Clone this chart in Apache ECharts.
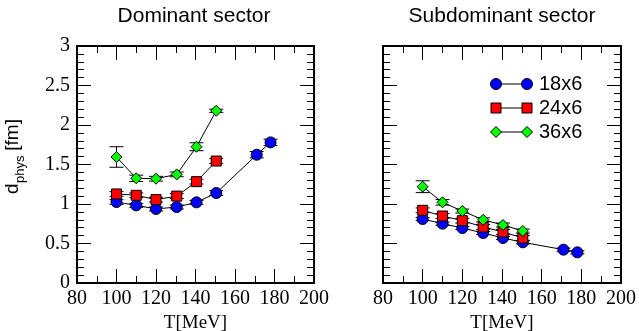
<!DOCTYPE html>
<html><head><meta charset="utf-8">
<script src="https://cdn.jsdelivr.net/npm/echarts@6/dist/echarts.min.js"></script>
<style>html,body{margin:0;padding:0;background:#fff}#c{width:639px;height:331px}</style>
</head><body><div id="c"></div>
<script>
// Temperatures (MeV) of the lattice ensembles
const temps = [100, 110, 120, 130.5, 140.5, 150.5, 171, 178];
const latticeNames = ['18x6', '24x6', '36x6'];
const markerColors = ['#0000ff', '#ff0000', '#00ff00'];
const markerShapes = ['circle', 'rect', 'diamond'];
const markerSizes = [11, 10, 11];

// Dominant sector: d_phys [fm] and errors
const dom18 = [1.025, 0.983, 0.937, 0.962, 1.021, 1.139, 1.624, 1.78];
const dom18Err = [0.03, 0.025, 0.025, 0.025, 0.025, 0.03, 0.04, 0.04];
const dom24 = [1.127, 1.11, 1.055, 1.10, 1.283, 1.544];
const dom24Err = [0.03, 0.03, 0.03, 0.03, 0.03, 0.03];
const dom36 = [1.595, 1.325, 1.32, 1.375, 1.725, 2.18];
const dom36Err = [0.13, 0.04, 0.03, 0.03, 0.05, 0.02];

// Subdominant sector: d_phys [fm] and errors
const sub18 = [0.81, 0.751, 0.696, 0.633, 0.57, 0.515, 0.422, 0.388];
const sub18Err = [0.02, 0.02, 0.02, 0.02, 0.02, 0.02, 0.02, 0.02];
const sub24 = [0.92, 0.848, 0.789, 0.709, 0.646, 0.57];
const sub24Err = [0.03, 0.03, 0.03, 0.03, 0.03, 0.03];
const sub36 = [1.219, 1.021, 0.911, 0.80, 0.734, 0.658];
const sub36Err = [0.075, 0.035, 0.025, 0.025, 0.025, 0.025];

const panelTitles = ['Dominant sector', 'Subdominant sector'];
const xTitle = 'T[MeV]';

const panels = [
  { vals: [dom18, dom24, dom36], errs: [dom18Err, dom24Err, dom36Err] },
  { vals: [sub18, sub24, sub36], errs: [sub18Err, sub24Err, sub36Err] }
];

const serif = 'Liberation Serif, Times New Roman, serif';
const sans = 'Liberation Sans, Arial, Helvetica, sans-serif';

function xAx(grid, pos, labels) {
  return {
    type: 'value', gridIndex: grid, position: pos, min: 80, max: 200, interval: 20,
    axisLine: { show: true, onZero: false, lineStyle: { color: '#000', width: 2 } },
    axisTick: { show: true, inside: true, length: 14, lineStyle: { color: '#000', width: 1 } },
    minorTick: { show: true, splitNumber: 2, length: 7, lineStyle: { color: '#000', width: 1 } },
    splitLine: { show: false }, minorSplitLine: { show: false },
    axisLabel: { show: labels, color: '#000', fontFamily: serif, fontSize: 20, margin: 6 },
    name: labels ? xTitle : '', nameLocation: 'middle', nameGap: 30,
    nameTextStyle: { color: '#000', fontFamily: serif, fontSize: 19 }
  };
}
function yAx(grid, pos, labels) {
  return {
    type: 'value', gridIndex: grid, position: pos, min: 0, max: 3, interval: 0.5,
    axisLine: { show: true, onZero: false, lineStyle: { color: '#000', width: 2 } },
    axisTick: { show: true, inside: true, length: 14, lineStyle: { color: '#000', width: 1 } },
    minorTick: { show: true, splitNumber: 5, length: 7, lineStyle: { color: '#000', width: 1 } },
    splitLine: { show: false }, minorSplitLine: { show: false },
    axisLabel: { show: labels, color: '#000', fontFamily: serif, fontSize: 20, margin: 7 }
  };
}

function errRender(params, api) {
  const x = api.value(0), y = api.value(1), e = api.value(2);
  const top = api.coord([x, y + e]);
  const bot = api.coord([x, y - e]);
  const hw = 7;
  const st = { stroke: '#000', lineWidth: 1 };
  return {
    type: 'group', children: [
      { type: 'line', shape: { x1: top[0], y1: top[1], x2: bot[0], y2: bot[1] }, style: st },
      { type: 'line', shape: { x1: top[0] - hw, y1: top[1], x2: top[0] + hw, y2: top[1] }, style: st },
      { type: 'line', shape: { x1: bot[0] - hw, y1: bot[1], x2: bot[0] + hw, y2: bot[1] }, style: st }
    ]
  };
}

const series = [];
panels.forEach((p, g) => {
  p.vals.forEach((vals, k) => {
    const pts = vals.map((v, i) => [temps[i], v]);
    const errPts = vals.map((v, i) => [temps[i], v, p.errs[k][i]]);
    series.push({
      type: 'custom', xAxisIndex: g * 2, yAxisIndex: g * 2, renderItem: errRender,
      data: errPts, encode: { x: 0, y: 1 }, z: 2 + k * 3, silent: true
    });
    series.push({
      type: 'line', name: latticeNames[k], xAxisIndex: g * 2, yAxisIndex: g * 2,
      data: pts, symbol: markerShapes[k], symbolSize: markerSizes[k], showSymbol: true,
      lineStyle: { color: '#000', width: 1 },
      itemStyle: { color: markerColors[k], borderColor: '#000', borderWidth: 1 },
      z: 3 + k * 3
    });
  });
});

// Legend drawn as line-with-end-markers entries
const legendGraphics = [];
latticeNames.forEach((name, k) => {
  const y = 84 + k * 24;
  const x1 = 496, x2 = 527;
  legendGraphics.push({ type: 'line', shape: { x1, y1: y, x2, y2: y }, style: { stroke: '#000', lineWidth: 1 } });
  [x1, x2].forEach(x => {
    let el;
    if (markerShapes[k] === 'circle') {
      el = { type: 'circle', shape: { cx: x, cy: y, r: 5.5 } };
    } else if (markerShapes[k] === 'rect') {
      el = { type: 'rect', shape: { x: x - 5, y: y - 5, width: 10, height: 10 } };
    } else {
      el = { type: 'polygon', shape: { points: [[x, y - 5.5], [x + 5.5, y], [x, y + 5.5], [x - 5.5, y]] } };
    }
    el.style = { fill: markerColors[k], stroke: '#000', lineWidth: 1 };
    el.z = 10;
    legendGraphics.push(el);
  });
  legendGraphics.push({
    type: 'text', x: 539, y: y, z: 10,
    style: { text: name, font: '20px ' + sans, fill: '#000', verticalAlign: 'middle', align: 'left' }
  });
});

const titleGraphics = [
  { type: 'text', x: 194, y: 16, style: { text: panelTitles[0], font: '21px ' + sans, fill: '#000', align: 'center', verticalAlign: 'middle' } },
  { type: 'text', x: 502, y: 16, style: { text: panelTitles[1], font: '21px ' + sans, fill: '#000', align: 'center', verticalAlign: 'middle' } }
];

// Y axis title: d_phys [fm], rotated
const yTitle = {
  type: 'group', x: 22, y: 194, rotation: Math.PI / 2,
  children: [
    { type: 'text', x: 0, y: 0, style: { text: 'd', font: '19px ' + sans, fill: '#000', verticalAlign: 'bottom', align: 'left' } },
    { type: 'text', x: 11, y: 5, style: { text: 'phys', font: '13px ' + sans, fill: '#000', verticalAlign: 'bottom', align: 'left' } },
    { type: 'text', x: 38, y: 0, style: { text: ' [fm]', font: '19px ' + sans, fill: '#000', verticalAlign: 'bottom', align: 'left' } }
  ]
};

const chart = echarts.init(document.getElementById('c'), null, { renderer: 'canvas' });
chart.setOption({
  animation: false,
  backgroundColor: '#fff',
  grid: [
    { left: 77, top: 46, width: 237, height: 237, containLabel: false, outerBoundsMode: 'none' },
    { left: 383, top: 46, width: 238, height: 237, containLabel: false, outerBoundsMode: 'none' }
  ],
  xAxis: [xAx(0, 'bottom', true), xAx(0, 'top', false), xAx(1, 'bottom', true), xAx(1, 'top', false)],
  yAxis: [yAx(0, 'left', true), yAx(0, 'right', false), yAx(1, 'left', false), yAx(1, 'right', false)],
  series: series,
  graphic: [...titleGraphics, yTitle, ...legendGraphics]
});
</script>
</body></html>
